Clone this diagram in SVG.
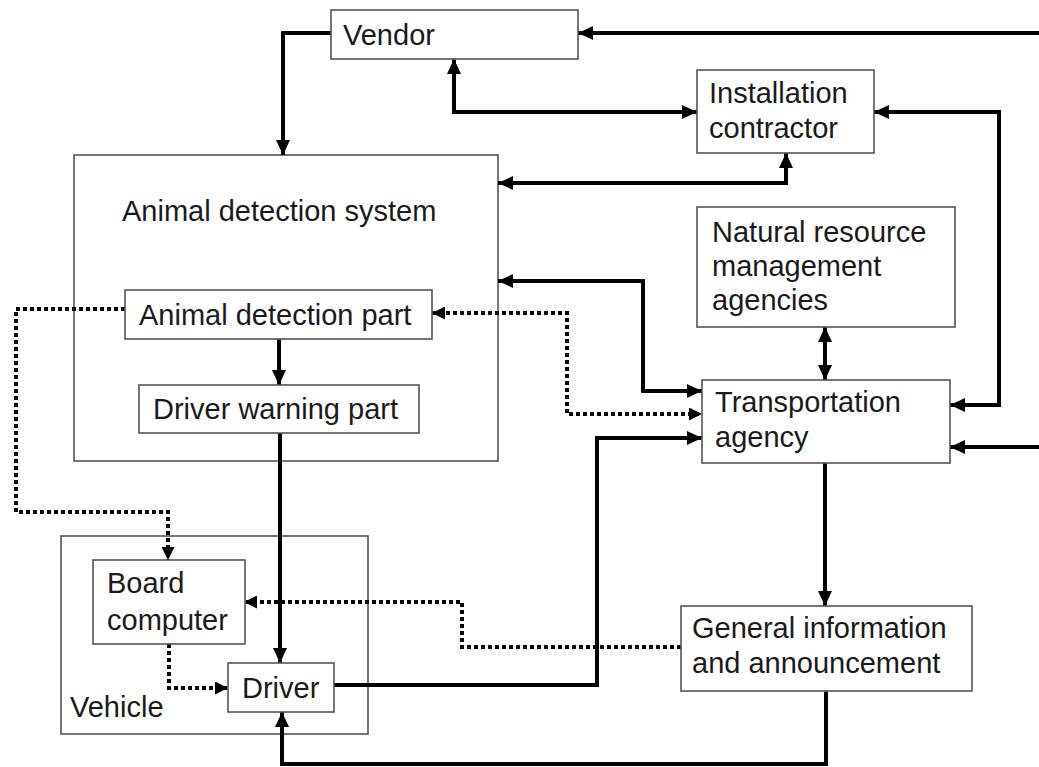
<svg xmlns="http://www.w3.org/2000/svg" width="1039" height="767" viewBox="0 0 1039 767">
<style>
.box{fill:#fff;stroke:#555;stroke-width:1.6}
.frame{fill:none;stroke:#555;stroke-width:1.6}
.t{font-family:"Liberation Sans",Arial,sans-serif;font-size:29px;fill:#1a1a1a}
.s{fill:none;stroke:#000;stroke-width:4;stroke-linejoin:miter}
.d{fill:none;stroke:#000;stroke-width:4;stroke-dasharray:4 3}
</style>
<defs>
<marker id="a" markerUnits="userSpaceOnUse" viewBox="0 0 15 14" refX="15" refY="7" markerWidth="15" markerHeight="14" orient="auto-start-reverse">
<path d="M0,0 L15,7 L0,14 z" fill="#000"/>
</marker>
<marker id="b" markerUnits="userSpaceOnUse" viewBox="0 0 13 13" refX="13" refY="6.5" markerWidth="13" markerHeight="13" orient="auto-start-reverse">
<path d="M0,0 L13,6.5 L0,13 z" fill="#000"/>
</marker>
</defs>

<g id="ads">
<rect class="frame" x="74" y="155" width="424" height="306"/>
<text class="t" x="122" y="221">Animal detection system</text>
</g>
<g id="vehicle">
<rect class="frame" x="61" y="536" width="307" height="198"/>
<text class="t" x="70" y="717">Vehicle</text>
</g>

<g id="connectors">
<path class="s" d="M331,33 H283 V155" marker-end="url(#a)"/>
<path class="s" d="M1039,33 H578" marker-end="url(#a)"/>
<path class="s" d="M454,59 V112 H697" marker-start="url(#a)" marker-end="url(#a)"/>
<path class="s" d="M786,153 V183 H498" marker-start="url(#a)" marker-end="url(#a)"/>
<path class="s" d="M874,112 H999 V405 H950" marker-start="url(#a)" marker-end="url(#a)"/>
<path class="s" d="M498,281 H643 V391 H702" marker-start="url(#a)" marker-end="url(#a)"/>
<path class="s" d="M825,327 V380" marker-start="url(#a)" marker-end="url(#a)"/>
<path class="s" d="M1039,447 H950" marker-end="url(#a)"/>
<path class="s" d="M825,463 V606" marker-end="url(#a)"/>
<path class="s" d="M279,339 V385" marker-end="url(#a)"/>
<path class="s" d="M280,433 V663" marker-end="url(#a)"/>
<path class="s" d="M334,685 H597 V438 H702" marker-end="url(#a)"/>
<path class="s" d="M826,691 V764 H282 V712" marker-end="url(#a)"/>
<path class="d" d="M125,309 H16 V512 H168 V560" marker-end="url(#b)"/>
<path class="d" d="M432,313 H567 V414 H702" marker-start="url(#b)" marker-end="url(#b)"/>
<path class="d" d="M681,647 H462 V602 H244" marker-end="url(#b)"/>
<path class="d" d="M169,644 V688 H228" marker-end="url(#b)"/>
</g>

<g id="vendor">
<rect class="box" x="331" y="10" width="247" height="49"/>
<text class="t" x="343" y="45">Vendor</text>
</g>
<g id="installation">
<rect class="box" x="697" y="70" width="177" height="83"/>
<text class="t" x="709" y="103">Installation</text>
<text class="t" x="709" y="138">contractor</text>
</g>
<g id="adp">
<rect class="box" x="125" y="290" width="307" height="49"/>
<text class="t" x="139" y="325">Animal detection part</text>
</g>
<g id="dwp">
<rect class="box" x="139" y="385" width="280" height="48"/>
<text class="t" x="153" y="419">Driver warning part</text>
</g>
<g id="nrma">
<rect class="box" x="697" y="207" width="258" height="120"/>
<text class="t" x="712" y="242">Natural resource</text>
<text class="t" x="712" y="276">management</text>
<text class="t" x="712" y="310">agencies</text>
</g>
<g id="ta">
<rect class="box" x="702" y="380" width="248" height="83"/>
<text class="t" x="715" y="412">Transportation</text>
<text class="t" x="715" y="447">agency</text>
</g>
<g id="board">
<rect class="box" x="93" y="560" width="152" height="84"/>
<text class="t" x="107" y="593">Board</text>
<text class="t" x="107" y="630">computer</text>
</g>
<g id="driver">
<rect class="box" x="228" y="663" width="106" height="49"/>
<text class="t" x="242" y="698">Driver</text>
</g>
<g id="general">
<rect class="box" x="681" y="606" width="291" height="85"/>
<text class="t" x="692" y="638">General information</text>
<text class="t" x="692" y="673">and announcement</text>
</g>
</svg>
